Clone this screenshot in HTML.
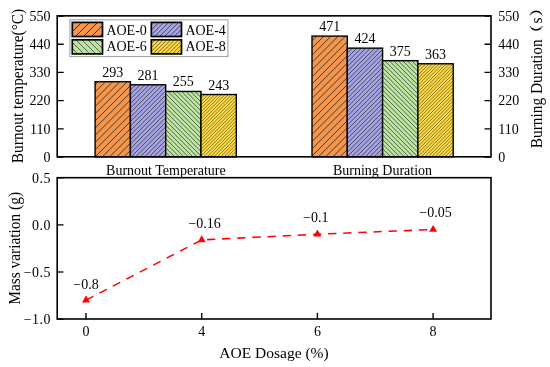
<!DOCTYPE html>
<html><head><meta charset="utf-8"><title>chart</title>
<style>html,body{margin:0;padding:0;background:#fff;}svg{display:block;will-change:transform;}text{font-family:"Liberation Serif",serif;fill:#000;}</style>
</head><body>
<svg width="550" height="367" viewBox="0 0 550 367">
<rect width="550" height="367" fill="#fff"/>
<rect x="95.10" y="81.71" width="35.30" height="75.09" fill="#F3974F"/>
<path d="M95.10,84.90L98.29,81.71M95.10,92.10L105.49,81.71M95.10,99.30L112.69,81.71M95.10,106.50L119.89,81.71M95.10,113.70L127.09,81.71M95.10,120.90L130.40,85.60M95.10,128.10L130.40,92.80M95.10,135.30L130.40,100.00M95.10,142.50L130.40,107.20M95.10,149.70L130.40,114.40M95.20,156.80L130.40,121.60M102.40,156.80L130.40,128.80M109.60,156.80L130.40,136.00M116.80,156.80L130.40,143.20M124.00,156.80L130.40,150.40" stroke="#000" stroke-opacity="0.72" stroke-width="0.9" fill="none"/>
<rect x="95.10" y="81.71" width="35.30" height="75.09" fill="none" stroke="#000" stroke-width="1.4"/>
<text x="112.75" y="76.71" font-size="14" text-anchor="middle">293</text>
<rect x="130.40" y="84.79" width="35.30" height="72.01" fill="#A6A4E0"/>
<path d="M130.40,85.60L131.21,84.79M130.40,90.10L135.71,84.79M130.40,94.60L140.21,84.79M130.40,99.10L144.71,84.79M130.40,103.60L149.21,84.79M130.40,108.10L153.71,84.79M130.40,112.60L158.21,84.79M130.40,117.10L162.71,84.79M130.40,121.60L165.70,86.30M130.40,126.10L165.70,90.80M130.40,130.60L165.70,95.30M130.40,135.10L165.70,99.80M130.40,139.60L165.70,104.30M130.40,144.10L165.70,108.80M130.40,148.60L165.70,113.30M130.40,153.10L165.70,117.80M131.20,156.80L165.70,122.30M135.70,156.80L165.70,126.80M140.20,156.80L165.70,131.30M144.70,156.80L165.70,135.80M149.20,156.80L165.70,140.30M153.70,156.80L165.70,144.80M158.20,156.80L165.70,149.30M162.70,156.80L165.70,153.80" stroke="#000" stroke-opacity="0.72" stroke-width="0.75" fill="none"/>
<rect x="130.40" y="84.79" width="35.30" height="72.01" fill="none" stroke="#000" stroke-width="1.4"/>
<text x="148.05" y="79.79" font-size="14" text-anchor="middle">281</text>
<rect x="165.70" y="91.45" width="35.30" height="65.35" fill="#BCE3A2"/>
<path d="M165.70,156.70L165.80,156.80M165.70,152.20L170.30,156.80M165.70,147.70L174.80,156.80M165.70,143.20L179.30,156.80M165.70,138.70L183.80,156.80M165.70,134.20L188.30,156.80M165.70,129.70L192.80,156.80M165.70,125.20L197.30,156.80M165.70,120.70L201.00,156.00M165.70,116.20L201.00,151.50M165.70,111.70L201.00,147.00M165.70,107.20L201.00,142.50M165.70,102.70L201.00,138.00M165.70,98.20L201.00,133.50M165.70,93.70L201.00,129.00M167.95,91.45L201.00,124.50M172.45,91.45L201.00,120.00M176.95,91.45L201.00,115.50M181.45,91.45L201.00,111.00M185.95,91.45L201.00,106.50M190.45,91.45L201.00,102.00M194.95,91.45L201.00,97.50M199.45,91.45L201.00,93.00" stroke="#000" stroke-opacity="0.72" stroke-width="0.75" fill="none"/>
<rect x="165.70" y="91.45" width="35.30" height="65.35" fill="none" stroke="#000" stroke-width="1.4"/>
<text x="183.35" y="86.45" font-size="14" text-anchor="middle">255</text>
<rect x="201.00" y="94.53" width="35.30" height="62.27" fill="#FFDB47"/>
<path d="M201.00,94.80L201.27,94.53M201.00,98.20L204.67,94.53M201.00,101.60L208.07,94.53M201.00,105.00L211.47,94.53M201.00,108.40L214.87,94.53M201.00,111.80L218.27,94.53M201.00,115.20L221.67,94.53M201.00,118.60L225.07,94.53M201.00,122.00L228.47,94.53M201.00,125.40L231.87,94.53M201.00,128.80L235.27,94.53M201.00,132.20L236.30,96.90M201.00,135.60L236.30,100.30M201.00,139.00L236.30,103.70M201.00,142.40L236.30,107.10M201.00,145.80L236.30,110.50M201.00,149.20L236.30,113.90M201.00,152.60L236.30,117.30M201.00,156.00L236.30,120.70M203.60,156.80L236.30,124.10M207.00,156.80L236.30,127.50M210.40,156.80L236.30,130.90M213.80,156.80L236.30,134.30M217.20,156.80L236.30,137.70M220.60,156.80L236.30,141.10M224.00,156.80L236.30,144.50M227.40,156.80L236.30,147.90M230.80,156.80L236.30,151.30M234.20,156.80L236.30,154.70" stroke="#000" stroke-opacity="0.72" stroke-width="0.65" fill="none"/>
<rect x="201.00" y="94.53" width="35.30" height="62.27" fill="none" stroke="#000" stroke-width="1.4"/>
<text x="218.65" y="89.53" font-size="14" text-anchor="middle">243</text>
<rect x="312.00" y="36.10" width="35.30" height="120.70" fill="#F3974F"/>
<path d="M312.00,40.80L316.70,36.10M312.00,48.00L323.90,36.10M312.00,55.20L331.10,36.10M312.00,62.40L338.30,36.10M312.00,69.60L345.50,36.10M312.00,76.80L347.30,41.50M312.00,84.00L347.30,48.70M312.00,91.20L347.30,55.90M312.00,98.40L347.30,63.10M312.00,105.60L347.30,70.30M312.00,112.80L347.30,77.50M312.00,120.00L347.30,84.70M312.00,127.20L347.30,91.90M312.00,134.40L347.30,99.10M312.00,141.60L347.30,106.30M312.00,148.80L347.30,113.50M312.00,156.00L347.30,120.70M318.40,156.80L347.30,127.90M325.60,156.80L347.30,135.10M332.80,156.80L347.30,142.30M340.00,156.80L347.30,149.50M347.20,156.80L347.30,156.70" stroke="#000" stroke-opacity="0.72" stroke-width="0.9" fill="none"/>
<rect x="312.00" y="36.10" width="35.30" height="120.70" fill="none" stroke="#000" stroke-width="1.4"/>
<text x="329.65" y="31.10" font-size="14" text-anchor="middle">471</text>
<rect x="347.30" y="48.14" width="35.30" height="108.66" fill="#A6A4E0"/>
<path d="M347.30,48.70L347.86,48.14M347.30,53.20L352.36,48.14M347.30,57.70L356.86,48.14M347.30,62.20L361.36,48.14M347.30,66.70L365.86,48.14M347.30,71.20L370.36,48.14M347.30,75.70L374.86,48.14M347.30,80.20L379.36,48.14M347.30,84.70L382.60,49.40M347.30,89.20L382.60,53.90M347.30,93.70L382.60,58.40M347.30,98.20L382.60,62.90M347.30,102.70L382.60,67.40M347.30,107.20L382.60,71.90M347.30,111.70L382.60,76.40M347.30,116.20L382.60,80.90M347.30,120.70L382.60,85.40M347.30,125.20L382.60,89.90M347.30,129.70L382.60,94.40M347.30,134.20L382.60,98.90M347.30,138.70L382.60,103.40M347.30,143.20L382.60,107.90M347.30,147.70L382.60,112.40M347.30,152.20L382.60,116.90M347.30,156.70L382.60,121.40M351.70,156.80L382.60,125.90M356.20,156.80L382.60,130.40M360.70,156.80L382.60,134.90M365.20,156.80L382.60,139.40M369.70,156.80L382.60,143.90M374.20,156.80L382.60,148.40M378.70,156.80L382.60,152.90" stroke="#000" stroke-opacity="0.72" stroke-width="0.75" fill="none"/>
<rect x="347.30" y="48.14" width="35.30" height="108.66" fill="none" stroke="#000" stroke-width="1.4"/>
<text x="364.95" y="43.14" font-size="14" text-anchor="middle">424</text>
<rect x="382.60" y="60.70" width="35.30" height="96.10" fill="#BCE3A2"/>
<path d="M382.60,153.10L386.30,156.80M382.60,148.60L390.80,156.80M382.60,144.10L395.30,156.80M382.60,139.60L399.80,156.80M382.60,135.10L404.30,156.80M382.60,130.60L408.80,156.80M382.60,126.10L413.30,156.80M382.60,121.60L417.80,156.80M382.60,117.10L417.90,152.40M382.60,112.60L417.90,147.90M382.60,108.10L417.90,143.40M382.60,103.60L417.90,138.90M382.60,99.10L417.90,134.40M382.60,94.60L417.90,129.90M382.60,90.10L417.90,125.40M382.60,85.60L417.90,120.90M382.60,81.10L417.90,116.40M382.60,76.60L417.90,111.90M382.60,72.10L417.90,107.40M382.60,67.60L417.90,102.90M382.60,63.10L417.90,98.40M384.70,60.70L417.90,93.90M389.20,60.70L417.90,89.40M393.70,60.70L417.90,84.90M398.20,60.70L417.90,80.40M402.70,60.70L417.90,75.90M407.20,60.70L417.90,71.40M411.70,60.70L417.90,66.90M416.20,60.70L417.90,62.40" stroke="#000" stroke-opacity="0.72" stroke-width="0.75" fill="none"/>
<rect x="382.60" y="60.70" width="35.30" height="96.10" fill="none" stroke="#000" stroke-width="1.4"/>
<text x="400.25" y="55.70" font-size="14" text-anchor="middle">375</text>
<rect x="417.90" y="63.77" width="35.30" height="93.03" fill="#FFDB47"/>
<path d="M417.90,64.90L419.03,63.77M417.90,68.30L422.43,63.77M417.90,71.70L425.83,63.77M417.90,75.10L429.23,63.77M417.90,78.50L432.63,63.77M417.90,81.90L436.03,63.77M417.90,85.30L439.43,63.77M417.90,88.70L442.83,63.77M417.90,92.10L446.23,63.77M417.90,95.50L449.63,63.77M417.90,98.90L453.03,63.77M417.90,102.30L453.20,67.00M417.90,105.70L453.20,70.40M417.90,109.10L453.20,73.80M417.90,112.50L453.20,77.20M417.90,115.90L453.20,80.60M417.90,119.30L453.20,84.00M417.90,122.70L453.20,87.40M417.90,126.10L453.20,90.80M417.90,129.50L453.20,94.20M417.90,132.90L453.20,97.60M417.90,136.30L453.20,101.00M417.90,139.70L453.20,104.40M417.90,143.10L453.20,107.80M417.90,146.50L453.20,111.20M417.90,149.90L453.20,114.60M417.90,153.30L453.20,118.00M417.90,156.70L453.20,121.40M421.20,156.80L453.20,124.80M424.60,156.80L453.20,128.20M428.00,156.80L453.20,131.60M431.40,156.80L453.20,135.00M434.80,156.80L453.20,138.40M438.20,156.80L453.20,141.80M441.60,156.80L453.20,145.20M445.00,156.80L453.20,148.60M448.40,156.80L453.20,152.00M451.80,156.80L453.20,155.40" stroke="#000" stroke-opacity="0.72" stroke-width="0.65" fill="none"/>
<rect x="417.90" y="63.77" width="35.30" height="93.03" fill="none" stroke="#000" stroke-width="1.4"/>
<text x="435.55" y="58.77" font-size="14" text-anchor="middle">363</text>
<rect x="57.2" y="15.85" width="433.8" height="140.95000000000002" fill="none" stroke="#000" stroke-width="1.6"/>
<path d="M57.2,157.00 h6.5 M491.0,157.00 h-6.5" stroke="#000" stroke-width="1.3"/>
<text x="50.4" y="161.80" font-size="14" text-anchor="end">0</text>
<text x="498.3" y="161.80" font-size="14">0</text>
<path d="M57.2,128.81 h6.5 M491.0,128.81 h-6.5" stroke="#000" stroke-width="1.3"/>
<text x="50.4" y="133.61" font-size="14" text-anchor="end">110</text>
<text x="498.3" y="133.61" font-size="14">110</text>
<path d="M57.2,100.62 h6.5 M491.0,100.62 h-6.5" stroke="#000" stroke-width="1.3"/>
<text x="50.4" y="105.42" font-size="14" text-anchor="end">220</text>
<text x="498.3" y="105.42" font-size="14">220</text>
<path d="M57.2,72.43 h6.5 M491.0,72.43 h-6.5" stroke="#000" stroke-width="1.3"/>
<text x="50.4" y="77.23" font-size="14" text-anchor="end">330</text>
<text x="498.3" y="77.23" font-size="14">330</text>
<path d="M57.2,44.24 h6.5 M491.0,44.24 h-6.5" stroke="#000" stroke-width="1.3"/>
<text x="50.4" y="49.04" font-size="14" text-anchor="end">440</text>
<text x="498.3" y="49.04" font-size="14">440</text>
<path d="M57.2,16.05 h6.5 M491.0,16.05 h-6.5" stroke="#000" stroke-width="1.3"/>
<text x="50.4" y="20.85" font-size="14" text-anchor="end">550</text>
<text x="498.3" y="20.85" font-size="14">550</text>
<text x="165.9" y="174.5" font-size="14" text-anchor="middle">Burnout Temperature</text>
<text x="382.5" y="174.5" font-size="14" text-anchor="middle">Burning Duration</text>
<rect x="69.9" y="19.8" width="158.0" height="36.8" fill="#fff" stroke="#9c9c9c" stroke-width="1"/>
<rect x="72.30" y="22.40" width="30.20" height="14.10" fill="#F3974F"/>
<path d="M72.30,23.70L73.60,22.40M72.30,31.70L81.60,22.40M75.50,36.50L89.60,22.40M83.50,36.50L97.60,22.40M91.50,36.50L102.50,25.50M99.50,36.50L102.50,33.50" stroke="#000" stroke-opacity="0.72" stroke-width="1.0" fill="none"/>
<rect x="72.30" y="22.40" width="30.20" height="14.10" fill="none" stroke="#000" stroke-width="1.7"/>
<text x="106.40" y="34.9" font-size="14">AOE-0</text>
<rect x="151.30" y="22.40" width="30.20" height="14.10" fill="#A6A4E0"/>
<path d="M151.30,25.10L154.00,22.40M151.30,30.00L158.90,22.40M151.30,34.90L163.80,22.40M154.60,36.50L168.70,22.40M159.50,36.50L173.60,22.40M164.40,36.50L178.50,22.40M169.30,36.50L181.50,24.30M174.20,36.50L181.50,29.20M179.10,36.50L181.50,34.10" stroke="#000" stroke-opacity="0.72" stroke-width="0.75" fill="none"/>
<rect x="151.30" y="22.40" width="30.20" height="14.10" fill="none" stroke="#000" stroke-width="1.7"/>
<text x="185.40" y="34.9" font-size="14">AOE-4</text>
<rect x="72.30" y="39.80" width="30.20" height="14.10" fill="#BCE3A2"/>
<path d="M72.30,48.30L77.90,53.90M72.30,42.30L83.90,53.90M75.80,39.80L89.90,53.90M81.80,39.80L95.90,53.90M87.80,39.80L101.90,53.90M93.80,39.80L102.50,48.50M99.80,39.80L102.50,42.50" stroke="#000" stroke-opacity="0.72" stroke-width="0.75" fill="none"/>
<rect x="72.30" y="39.80" width="30.20" height="14.10" fill="none" stroke="#000" stroke-width="1.7"/>
<text x="106.40" y="51.2" font-size="14">AOE-6</text>
<rect x="151.30" y="39.80" width="30.20" height="14.10" fill="#FFDB47"/>
<path d="M151.30,43.70L155.20,39.80M151.30,47.60L159.10,39.80M151.30,51.50L163.00,39.80M152.80,53.90L166.90,39.80M156.70,53.90L170.80,39.80M160.60,53.90L174.70,39.80M164.50,53.90L178.60,39.80M168.40,53.90L181.50,40.80M172.30,53.90L181.50,44.70M176.20,53.90L181.50,48.60M180.10,53.90L181.50,52.50" stroke="#000" stroke-opacity="0.72" stroke-width="0.75" fill="none"/>
<rect x="151.30" y="39.80" width="30.20" height="14.10" fill="none" stroke="#000" stroke-width="1.7"/>
<text x="185.40" y="51.2" font-size="14">AOE-8</text>
<text transform="translate(22.7,163.2) rotate(-90) scale(0.963,1)" font-size="16">Burnout temperature(°C)</text>
<text transform="translate(541.7,148.3) rotate(-90) scale(0.963,1)" font-size="16">Burning Duration</text>
<text transform="translate(541.7,23.6) rotate(-90) scale(0.963,1)" font-size="16">s</text>
<path d="M529.9,25.9 A6.5,6.5 0 0 0 542.3,25.9 A7.4,7.4 0 0 1 529.9,25.9 Z" fill="#000" stroke="#000" stroke-width="0.3"/>
<path d="M529.9,15.4 A6.5,6.5 0 0 1 542.3,15.4 A7.4,7.4 0 0 0 529.9,15.4 Z" fill="#000" stroke="#000" stroke-width="0.3"/>
<rect x="57.2" y="177.7" width="433.8" height="141.3" fill="none" stroke="#000" stroke-width="1.6"/>
<path d="M57.2,177.80 h6.3" stroke="#000" stroke-width="1.3"/>
<text x="50.8" y="182.60" font-size="14" text-anchor="end" letter-spacing="0.4">0.5</text>
<path d="M57.2,224.90 h6.3" stroke="#000" stroke-width="1.3"/>
<text x="50.8" y="229.70" font-size="14" text-anchor="end" letter-spacing="0.4">0.0</text>
<path d="M57.2,272.00 h6.3" stroke="#000" stroke-width="1.3"/>
<text x="50.8" y="276.80" font-size="14" text-anchor="end" letter-spacing="0.4">−0.5</text>
<path d="M57.2,319.10 h6.3" stroke="#000" stroke-width="1.3"/>
<text x="50.8" y="323.90" font-size="14" text-anchor="end" letter-spacing="0.4">−1.0</text>
<path d="M86.0,319.0 v-6.1" stroke="#000" stroke-width="1.4"/>
<text x="86.0" y="336.3" font-size="14" text-anchor="middle">0</text>
<path d="M201.7,319.0 v-6.1" stroke="#000" stroke-width="1.4"/>
<text x="201.7" y="336.3" font-size="14" text-anchor="middle">4</text>
<path d="M317.4,319.0 v-6.1" stroke="#000" stroke-width="1.4"/>
<text x="317.4" y="336.3" font-size="14" text-anchor="middle">6</text>
<path d="M433.1,319.0 v-6.1" stroke="#000" stroke-width="1.4"/>
<text x="433.1" y="336.3" font-size="14" text-anchor="middle">8</text>
<text x="274.0" y="358.3" font-size="15.5" text-anchor="middle">AOE Dosage (%)</text>
<text transform="translate(20.4,304.8) rotate(-90) scale(0.963,1)" font-size="16">Mass variation (g)</text>
<polyline points="86.00,300.16 201.70,239.87" fill="none" stroke="#f00" stroke-width="1.55" stroke-dasharray="8.3 6.85"/>
<polyline points="201.70,239.87 317.40,234.22 433.10,229.51" fill="none" stroke="#f00" stroke-width="1.55" stroke-dasharray="8.3 6.85" stroke-dashoffset="9.85"/>
<path d="M82.00,302.46 L90.00,302.46 L86.00,295.56 Z" fill="#f00"/>
<path d="M197.70,242.17 L205.70,242.17 L201.70,235.27 Z" fill="#f00"/>
<path d="M313.40,236.52 L321.40,236.52 L317.40,229.62 Z" fill="#f00"/>
<path d="M429.10,231.81 L437.10,231.81 L433.10,224.91 Z" fill="#f00"/>
<text x="86.0" y="288.6" font-size="14" text-anchor="middle">−0.8</text>
<text x="204.6" y="227.9" font-size="14" text-anchor="middle">−0.16</text>
<text x="315.8" y="222.3" font-size="14" text-anchor="middle">−0.1</text>
<text x="435.5" y="217.3" font-size="14" text-anchor="middle">−0.05</text>
</svg>
</body></html>
